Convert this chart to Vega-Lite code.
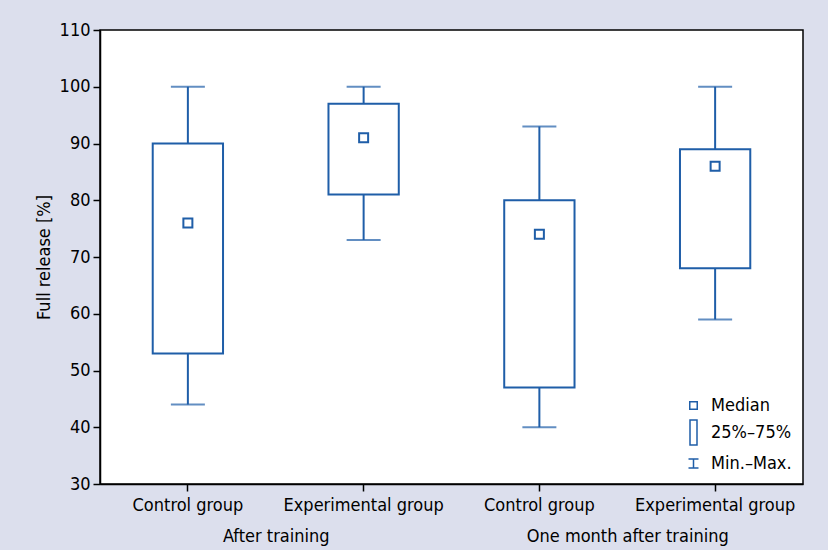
{
  "$schema": "https://vega.github.io/schema/vega-lite/v6.json",
  "autosize": {"type": "none"},
  "padding": {"left": 100, "top": 30, "right": 25, "bottom": 66},
  "width": 703,
  "height": 454,
  "background": "#dcdfed",
  "data": {
    "values": [
      {"period": "After training", "group": "Control group", "slot": "After training|Control group", "min": 44, "q1": 53, "median": 76, "q3": 90, "max": 100},
      {"period": "After training", "group": "Experimental group", "slot": "After training|Experimental group", "min": 73, "q1": 81, "median": 91, "q3": 97, "max": 100},
      {"period": "One month after training", "group": "Control group", "slot": "One month after training|Control group", "min": 40, "q1": 47, "median": 74, "q3": 80, "max": 93},
      {"period": "One month after training", "group": "Experimental group", "slot": "One month after training|Experimental group", "min": 59, "q1": 68, "median": 86, "q3": 89, "max": 100}
    ]
  },
  "layer": [
    {
      "encoding": {
        "x": {
          "field": "slot",
          "type": "nominal",
          "sort": null,
          "scale": {"paddingInner": 0, "paddingOuter": 0},
          "axis": {"orient": "bottom", "title": null, "labelAngle": 0, "labelPadding": 5, "labelExpr": "split(datum.value, '|')[1]"}
        }
      },
      "layer": [
        {
          "mark": {"type": "rule", "color": "#1f5ea8", "strokeWidth": 2},
          "encoding": {
            "y": {"field": "min", "type": "quantitative", "scale": {"domain": [30, 110], "nice": false, "zero": false}, "axis": {"title": "Full release [%]", "values": [30, 40, 50, 60, 70, 80, 90, 100, 110], "labelPadding": 3, "titlePadding": 6}},
            "y2": {"field": "q1"}
          }
        },
        {
          "mark": {"type": "rule", "color": "#1f5ea8", "strokeWidth": 2},
          "encoding": {
            "y": {"field": "q3", "type": "quantitative"},
            "y2": {"field": "max"}
          }
        },
        {
          "mark": {"type": "tick", "color": "#1f5ea8", "size": 34, "thickness": 2},
          "encoding": {"y": {"field": "min", "type": "quantitative"}}
        },
        {
          "mark": {"type": "tick", "color": "#1f5ea8", "size": 34, "thickness": 2},
          "encoding": {"y": {"field": "max", "type": "quantitative"}}
        },
        {
          "mark": {"type": "bar", "fill": "white", "stroke": "#1f5ea8", "strokeWidth": 2, "width": {"band": 0.4}},
          "encoding": {
            "y": {"field": "q1", "type": "quantitative"},
            "y2": {"field": "q3"}
          }
        },
        {
          "mark": {"type": "point", "filled": false, "color": "#1f5ea8", "strokeWidth": 2, "size": 900, "opacity": 1},
          "encoding": {
            "y": {"field": "median", "type": "quantitative"},
            "shape": {
              "datum": "Median",
              "scale": {
                "domain": ["Median", "25%–75%", "Min.–Max."],
                "range": ["M-0.3,-0.3H0.3V0.3H-0.3Z", "M-0.28,-1H0.28V1H-0.28Z", "M-0.4,-0.36H0.4M0,-0.36V0.36M-0.4,0.36H0.4"]
              },
              "legend": {
                "title": null,
                "orient": "bottom-right",
                "offset": 11,
                "symbolSize": 625,
                "symbolStrokeColor": "#1f5ea8",
                "symbolFillColor": "transparent",
                "symbolStrokeWidth": 1.5,
                "symbolOpacity": 1,
                "labelFontSize": 18,
                "labelColor": "black",
                "labelOffset": 4,
                "rowPadding": 2
              }
            }
          }
        }
      ]
    },
    {
      "mark": {"type": "point", "opacity": 0},
      "encoding": {
        "x": {
          "field": "period",
          "type": "nominal",
          "sort": null,
          "scale": {"paddingInner": 0, "paddingOuter": 0},
          "axis": {"orient": "bottom", "title": null, "offset": 38, "domain": false, "ticks": false, "labelAngle": 0, "labelPadding": 5, "labelLimit": 0}
        },
        "y": {"field": "median", "type": "quantitative"}
      }
    }
  ],
  "resolve": {"scale": {"x": "independent"}, "axis": {"x": "independent"}},
  "config": {
    "font": "'Liberation Sans Narrow', 'Arial Narrow', 'DejaVu Sans Condensed', Roboto, sans-serif",
    "view": {"fill": "white", "stroke": "black", "strokeWidth": 1.5},
    "axis": {
      "domainColor": "black",
      "domainWidth": 1.5,
      "tickColor": "black",
      "tickWidth": 1.5,
      "tickSize": 7,
      "labelColor": "black",
      "titleColor": "black",
      "grid": false,
      "labelFontSize": 18,
      "titleFontSize": 18,
      "titleFontWeight": "normal"
    }
  }
}
